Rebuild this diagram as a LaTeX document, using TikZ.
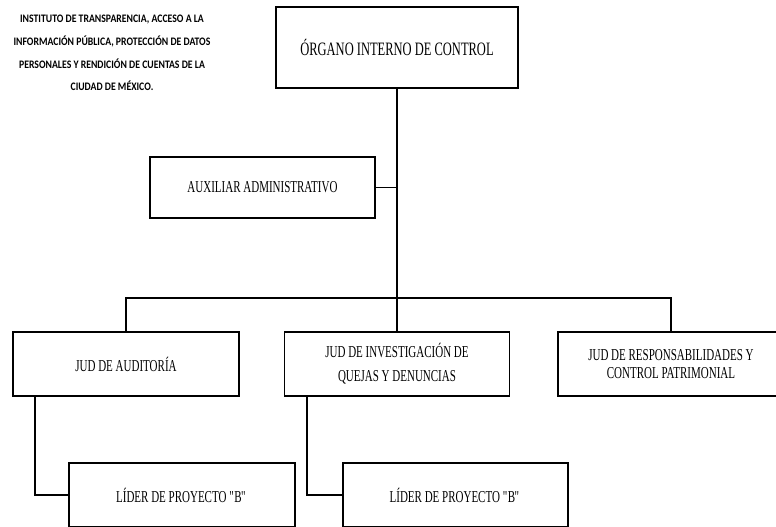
\documentclass[tikz,border=0pt]{standalone}
\usepackage{fontspec}
\setmainfont{Liberation Serif}[FakeStretch=0.66]
\newfontfamily\titlefont{Carlito}[FakeStretch=0.85]
\usetikzlibrary{positioning}
\newcommand{\px}{0.75pt}
\newcommand{\qB}{\textquotedbl\kern-1.2pt B\kern-0.6pt\textquotedbl}

\begin{document}
\begin{tikzpicture}[x=0.75pt, y=-0.75pt]
		\tikzstyle{Box} = [rectangle, draw=black, line width=1.3pt, fill=white, align=center, inner sep=0pt, font=\fontsize{12.5}{14}\selectfont]
		\tikzstyle{line} = [line width=1.3pt, black]
		
		\useasboundingbox (0,0) rectangle (776,526);
		
		\node (titulo) [align=center, font=\titlefont\bfseries\fontsize{8.6}{17}\selectfont] at (112,53) {INSTITUTO DE TRANSPARENCIA, ACCESO A LA\\ INFORMACIÓN PÚBLICA, PROTECCIÓN DE DATOS\\ PERSONALES Y RENDICIÓN DE CUENTAS DE LA\\ CIUDAD DE MÉXICO.};
		
		\node (organo) [Box, minimum width=242*\px, minimum height=81*\px, font=\fontsize{14.2}{16}\selectfont] at (397,47.5) {ÓRGANO INTERNO DE CONTROL};
		\node (aux) [Box, minimum width=225*\px, minimum height=61*\px] at (262.5,187.5) {AUXILIAR ADMINISTRATIVO};
		
		\node (auditoria) [Box, minimum width=226*\px, minimum height=64*\px] at (126,364) {JUD DE AUDITORÍA};
		\node (investigacion) [Box, minimum width=225*\px, minimum height=64*\px] at (397,364) {JUD DE INVESTIGACIÓN DE\\[4pt] QUEJAS Y DENUNCIAS};
		\node (responsab) [Box, minimum width=226*\px, minimum height=64*\px] at (671,364) {JUD DE RESPONSABILIDADES Y\\ CONTROL PATRIMONIAL};
		
		\node (lider1) [Box, minimum width=226*\px, minimum height=64*\px] at (182,495) {LÍDER DE PROYECTO \qB};
		\node (lider2) [Box, minimum width=225*\px, minimum height=64*\px] at (455.5,495) {LÍDER DE PROYECTO \qB};
		
		\coordinate (bar) at (397,298);
		\draw [line] (organo.south) -- (investigacion.north);
		\draw [line] (aux.east) -- (aux.east -| organo.south);
		\draw [line] (auditoria.north) |- (bar) -| (responsab.north);
		\draw [line] (auditoria.south west) ++(23,0) |- (lider1.west);
		\draw [line] (investigacion.south west) ++(23,0) |- (lider2.west);
		\end{tikzpicture}
\end{document}
